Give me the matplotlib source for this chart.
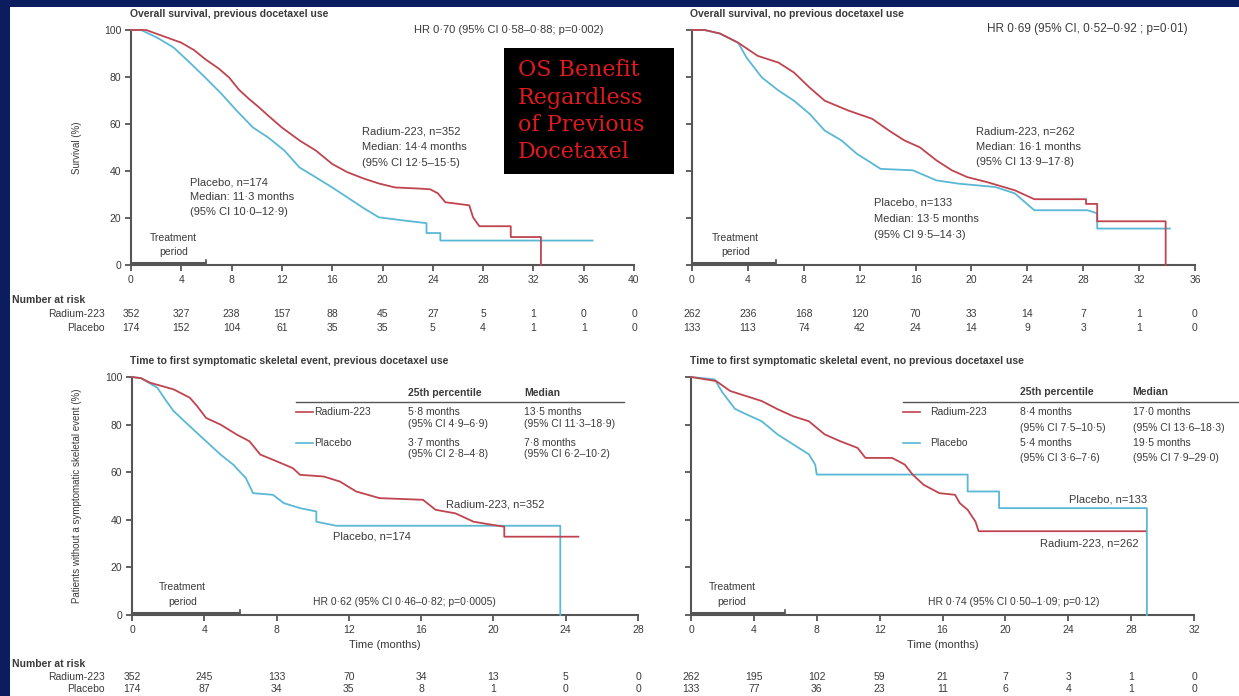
import matplotlib
matplotlib.use('Agg')
import matplotlib.pyplot as plt
from matplotlib.patches import Rectangle
from matplotlib.transforms import blended_transform_factory

# ---------------- data ----------------
# overall survival, previous docetaxel use (months, % surviving)
os_prev_ra_t = [0, 1.2, 2.5, 4.0, 5.0, 5.9, 7.0, 7.8, 8.6, 9.4, 10.2, 10.9, 12.0, 13.4, 14.7, 16.0, 17.2,
                18.5, 19.7, 21.0, 23.0, 23.8, 24.4, 25.0, 26.9, 27.2, 27.7, 30.2, 30.2, 32.6, 32.6]
os_prev_ra_s = [100, 100, 97.5, 94.6, 91.5, 87.6, 83.5, 79.8, 74.5, 70.6, 67, 63.6, 58.5, 53, 48.7, 43, 39.5,
                36.8, 34.7, 33, 32.5, 32.2, 30.5, 26.7, 25.4, 20.3, 16.5, 16.5, 11.9, 11.9, 0]
os_prev_pl_t = [0, 0.8, 2.1, 3.4, 4.7, 5.9, 7.2, 8.4, 9.7, 10.9, 12.2, 13.4, 14.7, 16.0, 17.2, 18.5, 19.7,
                21.6, 23.5, 23.5, 24.6, 24.6, 36.7]
os_prev_pl_s = [100, 100, 96.7, 92.5, 86, 79.8, 72.8, 65.7, 58.5, 54.3, 48.7, 41.5, 37.3, 33, 28.8, 24.2, 20.3,
                19, 17.8, 13.6, 13.6, 10.4, 10.4]

# overall survival, no previous docetaxel use
os_none_ra_t = [0, 0.9, 2.0, 3.3, 4.7, 6.2, 7.3, 8.4, 9.5, 11.2, 12.9, 14.1, 15.2, 16.3, 17.5, 18.6, 19.7,
                21.1, 23.1, 24.5, 28.2, 28.2, 29.0, 29.0, 33.9, 33.9]
os_none_ra_s = [100, 100, 98.5, 94.6, 89, 86.1, 81.9, 75.6, 69.9, 65.7, 62.2, 57.2, 53, 50.1, 44.5, 40.3, 37.4,
                35.3, 31.8, 28, 28, 26, 26, 18.6, 18.6, 0]
os_none_pl_t = [0, 0.9, 2.0, 3.3, 3.9, 5.0, 6.2, 7.3, 8.4, 9.5, 10.7, 11.8, 12.9, 13.5, 15.8, 17.5, 19.1,
                21.7, 23.1, 24.5, 28.3, 29.0, 29.0, 34.2]
os_none_pl_s = [100, 100, 98.5, 94.6, 88.3, 79.8, 74.2, 69.9, 64.4, 57.2, 53, 47.3, 43.2, 40.9, 40.3, 36, 34.6,
                33.2, 30.5, 23.3, 23.3, 22, 15.5, 15.5]

# time to first symptomatic skeletal event, previous docetaxel use
sse_prev_ra_t = [0, 0.5, 1.0, 2.3, 3.2, 3.6, 4.1, 4.9, 5.8, 6.5, 7.1, 8.0, 8.9, 9.3, 10.6, 11.5, 12.4, 13.7,
                 16.1, 16.8, 17.9, 18.9, 19.6, 20.6, 20.6, 24.7]
sse_prev_ra_s = [100, 99.5, 97.6, 94.8, 91.3, 87.8, 82.8, 80, 75.8, 73, 67.4, 64.6, 61.7, 58.9, 58.2, 56.1, 51.9,
                 49.1, 48.4, 44.2, 42.7, 39.2, 38.3, 37.1, 32.9, 32.9]
sse_prev_pl_t = [0, 0.5, 1.4, 1.9, 2.3, 3.0, 3.6, 4.3, 4.9, 5.6, 6.3, 6.7, 7.8, 8.4, 9.3, 10.2, 10.2, 11.3,
                 23.7, 23.7]
sse_prev_pl_s = [100, 99.5, 95.5, 89.9, 85.7, 80.7, 76.5, 71.6, 67.4, 63.2, 57.5, 51.2, 50.5, 47, 44.9, 43.5,
                 39.2, 37.5, 37.5, 0]

# time to first symptomatic skeletal event, no previous docetaxel use
sse_none_ra_t = [0, 1.6, 2.5, 3.5, 4.5, 5.5, 6.5, 7.5, 8.5, 9.5, 10.6, 11.1, 12.8, 13.6, 14.1, 14.8, 15.8,
                 16.8, 17.1, 17.6, 18.1, 18.3, 28.9]
sse_none_ra_s = [100, 98.3, 94.1, 92, 89.9, 86.5, 83.5, 81.4, 75.9, 73, 70.2, 66, 66, 63.2, 59, 54.7, 51.2,
                 50.5, 47, 44.2, 39.2, 35.2, 35.2]
sse_none_pl_t = [0, 1.5, 2.0, 2.8, 3.5, 4.5, 5.5, 6.5, 7.5, 7.9, 8.0, 17.6, 17.6, 19.6, 19.6, 29.0, 29.0]
sse_none_pl_s = [100, 99, 93.5, 86.6, 84.4, 81.4, 75.9, 71.7, 67.5, 63.2, 59, 59, 51.9, 51.9, 44.9, 44.9, 0]

# numbers at risk
risk_os_prev_ra = [352, 327, 238, 157, 88, 45, 27, 5, 1, 0, 0]
risk_os_prev_pl = [174, 152, 104, 61, 35, 35, 5, 4, 1, 1, 0]
risk_os_none_ra = [262, 236, 168, 120, 70, 33, 14, 7, 1, 0]
risk_os_none_pl = [133, 113, 74, 42, 24, 14, 9, 3, 1, 0]
risk_sse_prev_ra = [352, 245, 133, 70, 34, 13, 5, 0]
risk_sse_prev_pl = [174, 87, 34, 35, 8, 1, 0, 0]
risk_sse_none_ra = [262, 195, 102, 59, 21, 7, 3, 1, 0]
risk_sse_none_pl = [133, 77, 36, 23, 11, 6, 4, 1, 0]

# ---------------- style ----------------
W, H = 1239, 696
RED = '#c0444f'
BLUE = '#5ab8d4'
AXC = '#555555'
TXT = '#3a3a3a'

plt.rcParams['font.family'] = ['Liberation Sans', 'DejaVu Sans']

fig = plt.figure(figsize=(W / 100, H / 100), dpi=100)
fig.patch.set_facecolor('#0b1d5e')
# white slide area
fig.add_artist(Rectangle((10 / W, 0), 1, 1 - 7 / H, transform=fig.transFigure,
                         facecolor='white', edgecolor='none', zorder=0))


def fx(px):
    return px / W


def fy(py):
    return 1 - py / H


def panel(x0, x1, ytop, ybot, xmax, show_ylabels):
    ax = fig.add_axes([fx(x0), fy(ybot), (x1 - x0) / W, (ybot - ytop) / H])
    ax.patch.set_alpha(0)
    ax.set_xlim(0, xmax)
    ax.set_ylim(0, 100)
    ax.set_xticks(range(0, xmax + 1, 4))
    ax.set_yticks(range(0, 101, 20))
    for s in ['top', 'right']:
        ax.spines[s].set_visible(False)
    for s in ['left', 'bottom']:
        ax.spines[s].set_color(AXC)
        ax.spines[s].set_linewidth(1.5)
    ax.tick_params(direction='out', length=4, width=1.3, color=AXC, labelsize=7.5,
                   labelcolor=TXT, pad=3, labelleft=show_ylabels)
    # treatment period bar
    ax.plot([0, 6], [0.9, 0.9], color=AXC, lw=2.2, clip_on=False, solid_capstyle='butt')
    ax.plot([6, 6], [0.9, 2.2], color=AXC, lw=1.2, clip_on=False)
    return ax


def curves(ax, ra_t, ra_s, pl_t, pl_s):
    ax.plot(pl_t, pl_s, color=BLUE, lw=1.3, clip_on=False, zorder=3)
    ax.plot(ra_t, ra_s, color=RED, lw=1.3, clip_on=False, zorder=4)


def treat_label(ax, xc):
    ax.text(xc, 11.6, 'Treatment', ha='center', va='center', fontsize=7.5, color=TXT)
    ax.text(xc, 5.6, 'period', ha='center', va='center', fontsize=7.5, color=TXT)


def risk_rows(ax, ticks, ra, pl, ys, names=True):
    tr = blended_transform_factory(ax.transData, fig.transFigure)
    if names:
        fig.text(fx(12), fy(ys[0]), 'Number at risk', fontsize=7.5, fontweight='bold', color=TXT, va='center')
        fig.text(fx(105), fy(ys[1]), 'Radium-223', fontsize=7.5, color=TXT, va='center', ha='right')
        fig.text(fx(105), fy(ys[2]), 'Placebo', fontsize=7.5, color=TXT, va='center', ha='right')
    for t, a, b in zip(ticks, ra, pl):
        ax.text(t, fy(ys[1]), str(a), transform=tr, ha='center', va='center', fontsize=7.5, color=TXT)
        ax.text(t, fy(ys[2]), str(b), transform=tr, ha='center', va='center', fontsize=7.5, color=TXT)


def lines(ax, x, ys, texts, ha='left'):
    for y, s in zip(ys, texts):
        ax.text(x, y, s, ha=ha, va='center', fontsize=8, color=TXT)


# ---------------- top left ----------------
ax1 = panel(131, 634, 30, 265, 40, True)
curves(ax1, os_prev_ra_t, os_prev_ra_s, os_prev_pl_t, os_prev_pl_s)
treat_label(ax1, 3.4)
lines(ax1, 18.4, [56.6, 50.2, 43.4], ['Radium-223, n=352', 'Median: 14·4 months', '(95% CI 12·5–15·5)'])
lines(ax1, 4.7, [35.3, 28.9, 22.6], ['Placebo, n=174', 'Median: 11·3 months', '(95% CI 10·0–12·9)'])
ax1.text(22.5, 100, 'HR 0·70 (95% CI 0·58–0·88; p=0·002)', fontsize=8, color=TXT, va='center')
fig.text(fx(130), fy(14), 'Overall survival, previous docetaxel use', fontsize=7.5,
         fontweight='bold', color=TXT, va='center')
fig.text(fx(77), fy(148), 'Survival (%)', rotation=90, fontsize=7, color=TXT, ha='center', va='center')
risk_rows(ax1, range(0, 41, 4), risk_os_prev_ra, risk_os_prev_pl, [300, 314, 328])

# ---------------- top right ----------------
ax2 = panel(692, 1195, 30, 265, 36, False)
curves(ax2, os_none_ra_t, os_none_ra_s, os_none_pl_t, os_none_pl_s)
treat_label(ax2, 3.1)
lines(ax2, 20.3, [56.6, 50.2, 43.8], ['Radium-223, n=262', 'Median: 16·1 months', '(95% CI 13·9–17·8)'])
lines(ax2, 13.0, [26.4, 19.6, 12.8], ['Placebo, n=133', 'Median: 13·5 months', '(95% CI 9·5–14·3)'])
ax2.text(21.1, 100.4, 'HR 0·69 (95% CI, 0·52–0·92 ; p=0·01)', fontsize=8.5, color=TXT, va='center')
fig.text(fx(690), fy(14), 'Overall survival, no previous docetaxel use', fontsize=7.5,
         fontweight='bold', color=TXT, va='center')
risk_rows(ax2, range(0, 37, 4), risk_os_none_ra, risk_os_none_pl, [300, 314, 328], names=False)

# ---------------- bottom left ----------------
ax3 = panel(132, 638, 377, 615, 28, True)
curves(ax3, sse_prev_ra_t, sse_prev_ra_s, sse_prev_pl_t, sse_prev_pl_s)
treat_label(ax3, 2.8)
ax3.text(15.3, 93.2, '25th percentile', fontsize=7.5, fontweight='bold', color=TXT, va='center')
ax3.text(21.7, 93.2, 'Median', fontsize=7.5, fontweight='bold', color=TXT, va='center')
ax3.plot([9.1, 27.2], [89.5, 89.5], color=AXC, lw=1.0, clip_on=False)
ax3.plot([9.1, 10.0], [85.2, 85.2], color=RED, lw=1.2)
ax3.plot([9.1, 10.0], [72.2, 72.2], color=BLUE, lw=1.2)
tbl = dict(fontsize=7.5, color=TXT, va='center')
ax3.text(10.1, 85.2, 'Radium-223', **tbl)
ax3.text(10.1, 72.2, 'Placebo', **tbl)
ax3.text(15.3, 85.2, '5·8 months', **tbl)
ax3.text(15.3, 80.2, '(95% CI 4·9–6·9)', **tbl)
ax3.text(15.3, 72.2, '3·7 months', **tbl)
ax3.text(15.3, 67.5, '(95% CI 2·8–4·8)', **tbl)
ax3.text(21.7, 85.2, '13·5 months', **tbl)
ax3.text(21.7, 80.2, '(95% CI 11·3–18·9)', **tbl)
ax3.text(21.7, 72.2, '7·8 months', **tbl)
ax3.text(21.7, 67.5, '(95% CI 6·2–10·2)', **tbl)
lines(ax3, 17.4, [46.4], ['Radium-223, n=352'])
lines(ax3, 11.1, [32.9], ['Placebo, n=174'])
ax3.text(10.0, 5.5, 'HR 0·62 (95% CI 0·46–0·82; p=0·0005)', fontsize=7.5, color=TXT, va='center')
ax3.set_xlabel('Time (months)', fontsize=8, color=TXT, labelpad=4)
fig.text(fx(130), fy(361), 'Time to first symptomatic skeletal event, previous docetaxel use', fontsize=7.5,
         fontweight='bold', color=TXT, va='center')
fig.text(fx(77), fy(496), 'Patients without a symptomatic skeletal event (%)', rotation=90, fontsize=7,
         color=TXT, ha='center', va='center')
risk_rows(ax3, range(0, 29, 4), risk_sse_prev_ra, risk_sse_prev_pl, [664, 677, 689])

# ---------------- bottom right ----------------
ax4 = panel(691, 1194, 377, 615, 32, False)
curves(ax4, sse_none_ra_t, sse_none_ra_s, sse_none_pl_t, sse_none_pl_s)
treat_label(ax4, 2.6)
ax4.text(20.9, 93.7, '25th percentile', fontsize=7.5, fontweight='bold', color=TXT, va='center')
ax4.text(28.1, 93.7, 'Median', fontsize=7.5, fontweight='bold', color=TXT, va='center')
ax4.plot([13.5, 36], [89.5, 89.5], color=AXC, lw=1.0, clip_on=False)
ax4.plot([13.5, 14.6], [85.2, 85.2], color=RED, lw=1.2)
ax4.plot([13.5, 14.6], [72.2, 72.2], color=BLUE, lw=1.2)
ax4.text(15.2, 85.2, 'Radium-223', **tbl)
ax4.text(15.2, 72.2, 'Placebo', **tbl)
ax4.text(20.9, 85.2, '8·4 months', **tbl)
ax4.text(20.9, 78.5, '(95% CI 7·5–10·5)', **tbl)
ax4.text(20.9, 72.2, '5·4 months', **tbl)
ax4.text(20.9, 65.8, '(95% CI 3·6–7·6)', **tbl)
ax4.text(28.1, 85.2, '17·0 months', **tbl)
ax4.text(28.1, 78.5, '(95% CI 13·6–18·3)', **tbl)
ax4.text(28.1, 72.2, '19·5 months', **tbl)
ax4.text(28.1, 65.8, '(95% CI 7·9–29·0)', **tbl)
lines(ax4, 29.0, [48.5], ['Placebo, n=133'], ha='right')
lines(ax4, 28.5, [30.0], ['Radium-223, n=262'], ha='right')
ax4.text(15.1, 5.5, 'HR 0·74 (95% CI 0·50–1·09; p=0·12)', fontsize=7.5, color=TXT, va='center')
ax4.set_xlabel('Time (months)', fontsize=8, color=TXT, labelpad=4)
fig.text(fx(690), fy(361), 'Time to first symptomatic skeletal event, no previous docetaxel use', fontsize=7.5,
         fontweight='bold', color=TXT, va='center')
risk_rows(ax4, range(0, 33, 4), risk_sse_none_ra, risk_sse_none_pl, [664, 677, 689], names=False)

# ---------------- overlay box ----------------
fig.add_artist(Rectangle((fx(504), fy(174)), 170 / W, 126 / H, transform=fig.transFigure,
                         facecolor='black', edgecolor='none', zorder=10))
for y, s in zip([70, 98, 125, 152], ['OS Benefit', 'Regardless', 'of Previous', 'Docetaxel']):
    t = fig.text(fx(518), fy(y), s, family='DejaVu Serif', fontsize=16, color='#e0191e', va='center')
    t.set_zorder(11)

fig.savefig('out.png', dpi=100, facecolor=fig.get_facecolor())
